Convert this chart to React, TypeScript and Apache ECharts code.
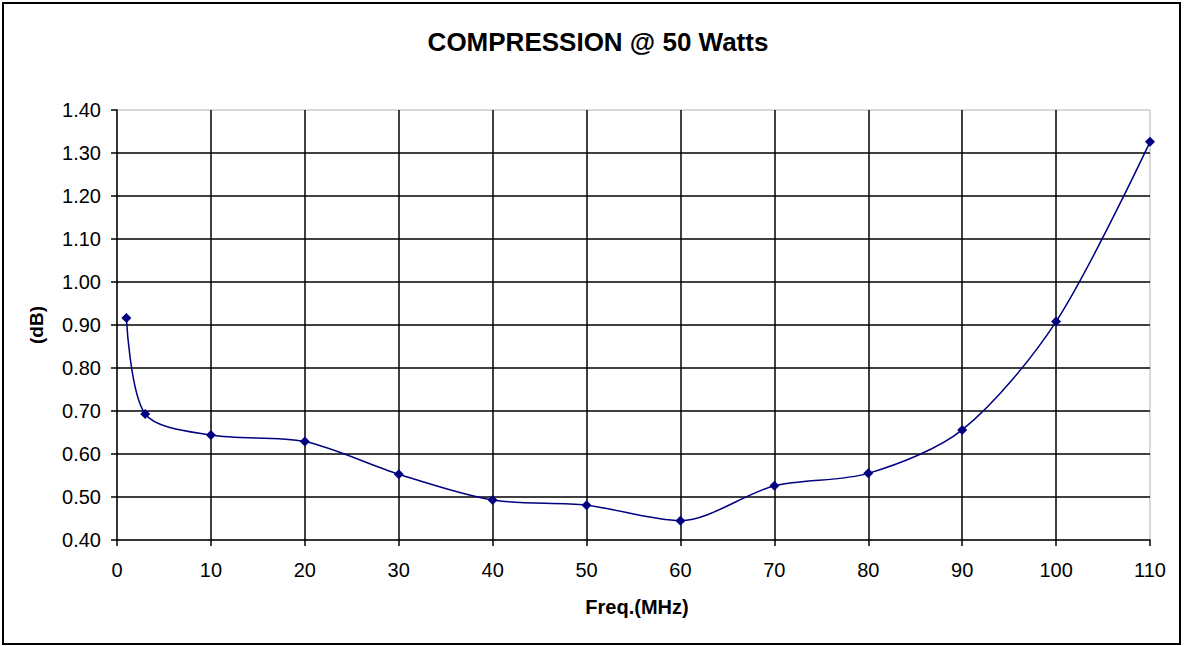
import React, { useEffect, useRef } from "react";
import * as echarts from "echarts";

const freqMHz = [1, 3, 10, 20, 30, 40, 50, 60, 70, 80, 90, 100, 110];
const compressionDb = [0.916, 0.693, 0.644, 0.629, 0.553, 0.493, 0.481, 0.445, 0.526, 0.555, 0.656, 0.908, 1.326];
const titleText = "COMPRESSION @ 50 Watts";
const xAxisName = "Freq.(MHz)";
const yAxisName = "(dB)";

export default function App() {
  const ref = useRef<HTMLDivElement>(null);
  useEffect(() => {
    if (!ref.current) return;
    const chart = echarts.init(ref.current, undefined, { renderer: "svg" });
    const font = "'Liberation Sans', Arial, sans-serif";
    chart.setOption({
      animation: false,
      backgroundColor: "#ffffff",
      title: {
        text: titleText,
        left: 593,
        top: 24,
        textAlign: "center",
        textStyle: { fontFamily: font, fontSize: 26, fontWeight: "bold", color: "#000" },
      },
      graphic: [
        {
          type: "rect",
          shape: { x: 3, y: 3, width: 1177, height: 641 },
          style: { fill: "none", stroke: "#000", lineWidth: 2 },
          silent: true,
          z: 100,
        },
        {
          type: "text",
          x: 36,
          y: 325,
          rotation: Math.PI / 2,
          style: {
            text: yAxisName,
            fontFamily: font,
            fontSize: 19,
            fontWeight: "bold",
            fill: "#000",
            textAlign: "center",
            textVerticalAlign: "middle",
          },
        },
        {
          type: "text",
          x: 637,
          y: 607,
          style: {
            text: xAxisName,
            fontFamily: font,
            fontSize: 20,
            fontWeight: "bold",
            fill: "#000",
            textAlign: "center",
            textVerticalAlign: "middle",
          },
        },
      ],
      grid: {
        left: 117,
        top: 110,
        right: 34,
        bottom: 106,
        show: true,
        borderColor: "#b0b0b0",
        borderWidth: 1,
        backgroundColor: "transparent",
      },
      xAxis: {
        type: "value",
        min: 0,
        max: 110,
        interval: 10,
        axisLine: { show: true, onZero: false, lineStyle: { color: "#000", width: 1.5 } },
        axisTick: { show: true, inside: false, length: 6, lineStyle: { color: "#000", width: 1.5 } },
        axisLabel: { margin: 20, color: "#000", fontFamily: font, fontSize: 20 },
        splitLine: { show: true, showMaxLine: false, showMinLine: false, lineStyle: { color: "#000", width: 1.5 } },
      },
      yAxis: {
        type: "value",
        min: 0.4,
        max: 1.4,
        interval: 0.1,
        axisLine: { show: true, onZero: false, lineStyle: { color: "#000", width: 1.5 } },
        axisTick: { show: true, inside: false, length: 6, lineStyle: { color: "#000", width: 1.5 } },
        axisLabel: {
          margin: 16,
          color: "#000",
          fontFamily: font,
          fontSize: 20,
          formatter: (v: number) => v.toFixed(2),
        },
        splitLine: { show: true, showMaxLine: false, showMinLine: false, lineStyle: { color: "#000", width: 1.5 } },
      },
      series: [
        {
          type: "line",
          data: freqMHz.map((f, i) => [f, compressionDb[i]]),
          smooth: 0.3,
          symbol: "diamond",
          symbolSize: 10,
          itemStyle: { color: "#000080" },
          lineStyle: { color: "#000080", width: 1.5 },
          z: 10,
        },
      ],
    });
    return () => chart.dispose();
  }, []);
  return (
    <div
      ref={ref}
      style={{ position: "fixed", left: 0, top: 0, width: 1184, height: 646 }}
    />
  );
}
